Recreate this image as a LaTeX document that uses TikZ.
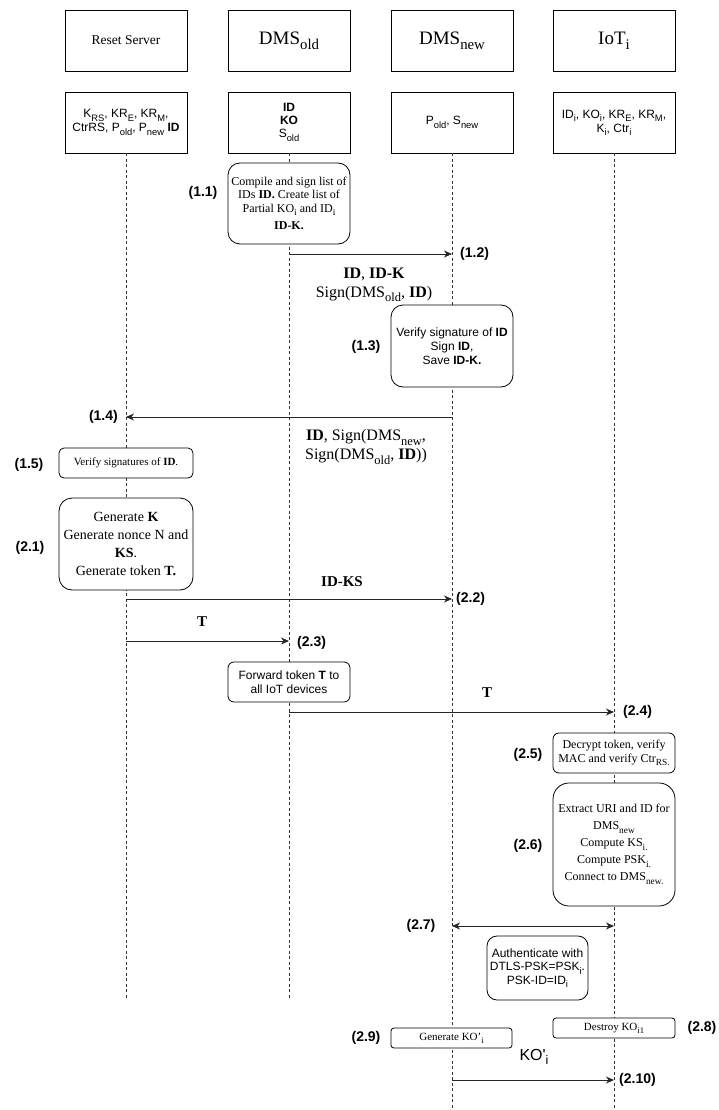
\documentclass[tikz,border=0pt]{standalone}
\usepackage{fontspec}
\setmainfont{Liberation Serif}
\newfontfamily\hv{Liberation Sans}
\usepackage{graphicx}
\usetikzlibrary{arrows.meta}
\newcommand\sbs[1]{\raisebox{-0.28em}{\scalebox{0.78}{#1}}}
\newcommand\fs[2]{\fontsize{#1}{#2}\selectfont}
\begin{document}
\begin{tikzpicture}[x=1pt,y=-1pt,
  actor/.style={draw=black, line width=0.8pt, fill=white, minimum width=122pt, minimum height=61pt, inner sep=0pt, align=center},
  bx/.style n args={3}{draw=black, line width=0.8pt, fill=white, minimum width=#1pt, minimum height=#2pt, rounded corners=#3pt, inner sep=0pt, align=center},
  life/.style={draw=black!80, line width=0.8pt, dash pattern=on 3pt off 2.5pt},
  arr/.style={draw=black!85, line width=1pt, -{Stealth[length=8pt,width=7pt,inset=2.5pt]}},
  darr/.style={draw=black!85, line width=1pt, {Stealth[length=8pt,width=7pt,inset=2.5pt]}-{Stealth[length=8pt,width=7pt,inset=2.5pt]}},
  step lbl/.style={font=\hv\bfseries\fs{14}{16}, inner sep=0pt},
  msg/.style={font=\fs{16}{19}, inner sep=0pt, align=center}
]
\useasboundingbox (0,0) rectangle (719,1110);
\fill[white] (0,0) rectangle (719,1110);

% actor boxes
\node[actor, font=\fs{13.5}{16}] (rs) at (126,40.5) {Reset Server};
\node[actor, font=\fs{19}{22}] (old) at (289,40.5) {DMS\sbs{old}};
\node[actor, font=\fs{19}{22}] (new) at (452,40.5) {DMS\sbs{new}};
\node[actor, font=\fs{19}{22}] (iot) at (614,40.5) {IoT\sbs{i}};

\node[actor, font=\hv\fs{12}{14}] (rs2) at (126,122.5) {K\sbs{RS}, KR\sbs{E}, KR\sbs{M},\\CtrRS, P\sbs{old}, P\sbs{new} \textbf{ID}};
\node[actor, font=\hv\fs{12}{13}] (old2) at (289,122.5) {\textbf{ID}\\\textbf{KO}\\S\sbs{old}};
\node[actor, font=\hv\fs{12}{14}] (new2) at (452,122.5) {P\sbs{old}, S\sbs{new}};
\node[actor, font=\hv\fs{12}{14}] (iot2) at (614,122.5) {ID\sbs{i}, KO\sbs{i}, KR\sbs{E}, KR\sbs{M},\\K\sbs{i}, Ctr\sbs{i}};

% lifelines
\coordinate (rsE) at (126,1000);
\coordinate (oldE) at (289,1000);
\coordinate (newE) at (452,1110);
\coordinate (iotE) at (614,1110);
\draw[life] (rs2.south) -- (rsE);
\draw[life] (old2.south) -- (oldE);
\draw[life] (new2.south) -- (newE);
\draw[life] (iot2.south) -- (iotE);

% activation boxes
\node[bx={122}{81}{12}, font=\fs{12}{13.5}] (b11) at (289,203.5)
  {Compile and sign list of\\IDs \textbf{ID.} Create list of\\Partial KO\sbs{i} and ID\sbs{i}\\[4pt]\textbf{ID-K.}};
\node[bx={122}{82}{12}, font=\hv\fs{12}{14}] (b13) at (452,346)
  {Verify signature of \textbf{ID}\\Sign \textbf{ID},\\Save \textbf{ID-K.}};
\node[bx={134}{30}{5}, font=\fs{11}{13}] (b15) at (126,463)
  {Verify signatures of \textbf{ID}.};
\node[bx={134}{92}{13}, font=\fs{14}{18}] (b21) at (126,544)
  {Generate \textbf{K}\\Generate nonce N and\\\textbf{KS}.\\Generate token \textbf{T.}};
\node[bx={122}{40}{6}, font=\hv\fs{12}{14}] (bfw) at (289,682)
  {Forward token \textbf{T} to\\all IoT devices};
\node[bx={122}{40}{6}, font=\fs{12}{13.5}] (b25) at (614,753)
  {Decrypt token, verify\\MAC and verify Ctr\sbs{RS.}};
\node[bx={122}{123}{16}, font=\fs{12}{17}] (b26) at (614,844.5)
  {Extract URI and ID for\\DMS\sbs{new}\\Compute KS\sbs{i.}\\Compute PSK\sbs{i.}\\Connect to DMS\sbs{new.}};
\node[bx={101}{64}{10}, font=\hv\fs{12}{13.5}] (bau) at (537.5,968)
  {Authenticate with\\DTLS-PSK=PSK\sbs{i}.\\PSK-ID=ID\sbs{i}};
\node[bx={122}{20}{3}, font=\fs{11}{13}] (bde) at (614,1028) {Destroy KO\sbs{i1}};
\node[bx={121}{20}{3}, font=\fs{11}{13}] (bge) at (451.5,1038) {Generate KO'\sbs{i}};

% message end points on lifelines
\coordinate (m12a) at (289,254);  \coordinate (m12b) at (452,254);
\coordinate (m14a) at (452,417);  \coordinate (m14b) at (126,417);
\coordinate (m22a) at (126,599);  \coordinate (m22b) at (452,599);
\coordinate (m23a) at (126,641);  \coordinate (m23b) at (289,641);
\coordinate (m24a) at (289,712);  \coordinate (m24b) at (614,712);
\coordinate (m27a) at (452,926);  \coordinate (m27b) at (614,926);
\coordinate (m210a) at (452,1080); \coordinate (m210b) at (614,1080);

\draw[arr] (m12a) -- (m12b);
\draw[arr] (m14a) -- (m14b);
\draw[arr] (m22a) -- (m22b);
\draw[arr] (m23a) -- (m23b);
\draw[arr] (m24a) -- (m24b);
\draw[darr] (m27a) -- (m27b);
\draw[arr] (m210a) -- (m210b);

% message labels
\node[msg] (t12) at (374,285) {\textbf{ID}, \textbf{ID-K}\\Sign(DMS\sbs{old}, \textbf{ID})};
\node[msg] (t14) at (366,447) {\textbf{ID}, Sign(DMS\sbs{new},\\Sign(DMS\sbs{old}, \textbf{ID}))};
\node[msg, font=\bfseries\fs{15}{18}] (t22) at (342,582) {ID-KS};
\node[msg, font=\bfseries\fs{15}{18}] (t23) at (202,622) {T};
\node[msg, font=\bfseries\fs{15}{18}] (t24) at (487,693) {T};
\node[msg, font=\hv\fs{16}{19}] (t210) at (534,1057) {KO'\sbs{i}};

% step labels
\node[step lbl] (s11) at (203,193) {(1.1)};
\node[step lbl, anchor=west] (s12) at (460,254) {(1.2)};
\node[step lbl] (s13) at (366,347) {(1.3)};
\node[step lbl, anchor=east] (s14) at (118,417) {(1.4)};
\node[step lbl] (s15) at (29,465) {(1.5)};
\node[step lbl] (s21) at (30,548) {(2.1)};
\node[step lbl, anchor=west] (s22) at (456,599) {(2.2)};
\node[step lbl, anchor=west] (s23) at (297,643) {(2.3)};
\node[step lbl, anchor=west] (s24) at (623,712) {(2.4)};
\node[step lbl] (s25) at (528,755) {(2.5)};
\node[step lbl] (s26) at (528,846) {(2.6)};
\node[step lbl] (s27) at (421,926) {(2.7)};
\node[step lbl] (s28) at (702,1028) {(2.8)};
\node[step lbl] (s29) at (366,1038) {(2.9)};
\node[step lbl, anchor=west] (s210) at (619,1080) {(2.10)};
\end{tikzpicture}
\end{document}
